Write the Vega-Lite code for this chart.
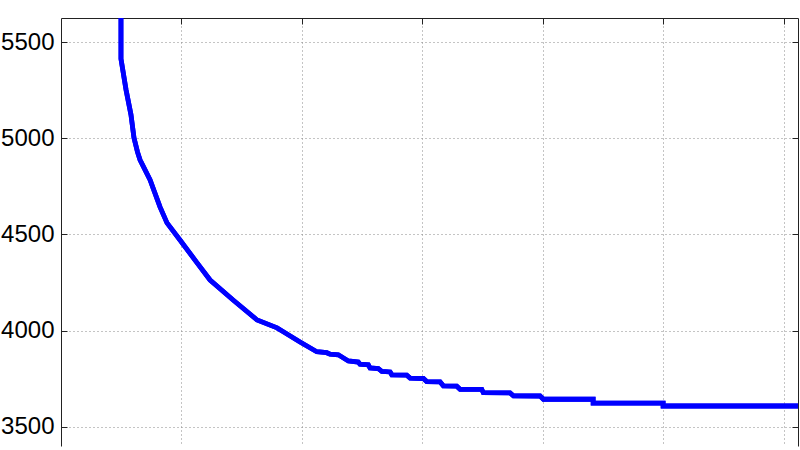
{
  "$schema": "https://vega.github.io/schema/vega-lite/v6.json",
  "width": 737,
  "height": 428,
  "autosize": {"type": "none"},
  "padding": {"left": 61, "top": 18, "right": 2, "bottom": 4},
  "background": "white",
  "data": {
    "values": [
      {"iter": 49.8, "cost": 5700},
      {"iter": 49.8, "cost": 5413},
      {"iter": 54.0, "cost": 5252},
      {"iter": 58.1, "cost": 5122},
      {"iter": 60.6, "cost": 5002},
      {"iter": 63.5, "cost": 4929},
      {"iter": 65.6, "cost": 4888},
      {"iter": 73.9, "cost": 4784},
      {"iter": 82.2, "cost": 4643},
      {"iter": 88.0, "cost": 4560},
      {"iter": 98.8, "cost": 4471},
      {"iter": 113.0, "cost": 4352},
      {"iter": 123.8, "cost": 4263},
      {"iter": 142.9, "cost": 4159},
      {"iter": 162.8, "cost": 4055},
      {"iter": 179.4, "cost": 4014},
      {"iter": 183.6, "cost": 3998},
      {"iter": 198.5, "cost": 3941},
      {"iter": 212.4, "cost": 3890},
      {"iter": 220.7, "cost": 3885},
      {"iter": 223.4, "cost": 3877},
      {"iter": 230.3, "cost": 3874},
      {"iter": 238.6, "cost": 3842},
      {"iter": 246.9, "cost": 3836},
      {"iter": 248.3, "cost": 3825},
      {"iter": 255.2, "cost": 3822},
      {"iter": 256.6, "cost": 3806},
      {"iter": 263.5, "cost": 3802},
      {"iter": 266.4, "cost": 3788},
      {"iter": 273.3, "cost": 3785},
      {"iter": 274.7, "cost": 3770},
      {"iter": 287.1, "cost": 3768},
      {"iter": 289.9, "cost": 3753},
      {"iter": 300.9, "cost": 3751},
      {"iter": 303.7, "cost": 3735},
      {"iter": 314.8, "cost": 3733},
      {"iter": 317.5, "cost": 3713},
      {"iter": 328.6, "cost": 3711},
      {"iter": 331.4, "cost": 3695},
      {"iter": 349.4, "cost": 3694},
      {"iter": 350.7, "cost": 3677},
      {"iter": 372.9, "cost": 3676},
      {"iter": 375.7, "cost": 3661},
      {"iter": 397.8, "cost": 3660},
      {"iter": 400.6, "cost": 3643},
      {"iter": 441.9, "cost": 3643},
      {"iter": 441.9, "cost": 3623},
      {"iter": 500.0, "cost": 3623},
      {"iter": 500.0, "cost": 3608},
      {"iter": 615.0, "cost": 3608}
    ]
  },
  "config": {
    "view": {"stroke": null},
    "axis": {
      "labelFont": "Liberation Sans",
      "labelFontSize": 24,
      "labelColor": "black",
      "gridColor": "#888888",
      "gridDash": [1, 3],
      "gridWidth": 1,
      "domainColor": "#222222",
      "tickColor": "#222222",
      "title": null
    }
  },
  "layer": [
    {
      "mark": {"type": "line", "color": "#0000ff", "strokeWidth": 4.8, "clip": true},
      "encoding": {
        "x": {
          "field": "iter",
          "type": "quantitative",
          "scale": {"domain": [0, 612], "nice": false, "zero": false},
          "axis": {
            "orient": "bottom",
            "values": [100, 200, 300, 400, 500, 600],
            "grid": true,
            "labels": false,
            "ticks": false,
            "domain": false
          }
        },
        "y": {
          "field": "cost",
          "type": "quantitative",
          "scale": {"domain": [3400, 5625], "nice": false, "zero": false},
          "axis": {
            "orient": "left",
            "values": [3500, 4000, 4500, 5000, 5500],
            "format": "d",
            "grid": true,
            "tickSize": -6,
            "labelPadding": 13,
            "domain": true
          }
        }
      }
    },
    {
      "mark": {"type": "line", "color": "#0000ff", "strokeWidth": 4.8, "clip": true},
      "encoding": {
        "x": {
          "field": "iter",
          "type": "quantitative",
          "scale": {"domain": [0, 612], "nice": false, "zero": false},
          "axis": {
            "orient": "top",
            "values": [100, 200, 300, 400, 500, 600],
            "grid": false,
            "labels": false,
            "tickSize": -6,
            "domain": true
          }
        },
        "y": {
          "field": "cost",
          "type": "quantitative",
          "scale": {"domain": [3400, 5625], "nice": false, "zero": false},
          "axis": {
            "orient": "right",
            "values": [3500, 4000, 4500, 5000, 5500],
            "grid": false,
            "labels": false,
            "tickSize": -6,
            "domain": true
          }
        }
      }
    }
  ],
  "resolve": {"axis": {"x": "independent", "y": "independent"}}
}
